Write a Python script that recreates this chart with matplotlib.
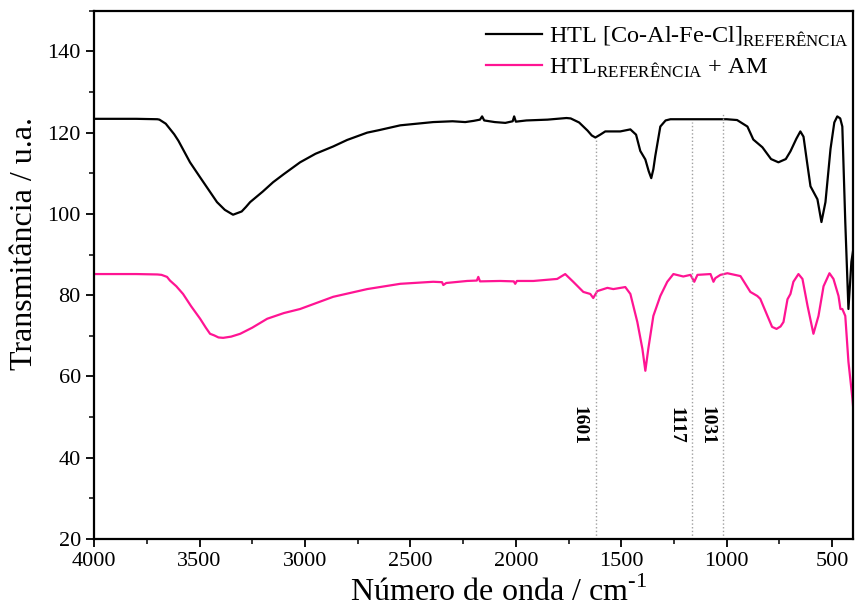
import numpy as np
import matplotlib
matplotlib.use("Agg")
import matplotlib.pyplot as plt
from matplotlib.ticker import MultipleLocator

plt.rcParams["font.family"] = ["Liberation Serif", "DejaVu Serif"]
plt.rcParams["mathtext.fontset"] = "custom"
plt.rcParams["mathtext.rm"] = "Liberation Serif"

# spectra (wavenumber, transmittance)
wn_ref = [4000, 3800, 3700, 3690, 3660, 3620, 3600, 3545, 3497, 3417, 3380, 3341, 3300,
          3280, 3260, 3200, 3151, 3100, 3023, 2950, 2866, 2800, 2705, 2650, 2548, 2392,
          2300, 2240, 2200, 2170, 2160, 2150, 2100, 2050, 2015, 2008, 2000, 1950, 1850,
          1760, 1740, 1700, 1660, 1640, 1623, 1600, 1576, 1505, 1457, 1430, 1410, 1386,
          1370, 1358, 1348, 1339, 1315, 1290, 1267, 1200, 1100, 1000, 951, 902, 874, 831,
          790, 755, 720, 698, 670, 651, 636, 620, 603, 570, 551, 532, 508, 490, 476, 462,
          452, 438, 423, 409, 400]
t_ref = [123.4, 123.4, 123.3, 123.2, 122.2, 119.6, 118.0, 112.7, 109.0, 102.9, 101.0, 99.8, 100.6,
         101.7, 102.9, 105.5, 107.8, 109.8, 112.7, 114.8, 116.6, 118.2, 120.0, 120.6, 121.8, 122.6,
         122.8, 122.6, 122.9, 123.2, 124.0, 123.0, 122.6, 122.4, 122.8, 124.0, 122.7, 123.0, 123.2,
         123.6, 123.5, 122.5, 120.5, 119.3, 118.8, 119.5, 120.3, 120.3, 120.8, 119.5, 115.5, 113.4,
         110.5, 108.8, 111.0, 114.2, 121.5, 123.0, 123.3, 123.3, 123.3, 123.3, 123.1, 121.5, 118.3, 116.4,
         113.5, 112.7, 113.5, 115.4, 118.5, 120.3, 119.0, 113.0, 106.8, 103.6, 98.0, 102.9, 116.0, 122.5,
         124.0, 123.5, 121.5, 98.0, 76.6, 88.2, 91.3]

wn_am = [4000, 3800, 3700, 3680, 3654, 3640, 3610, 3578, 3540, 3497, 3470, 3450, 3430,
         3410, 3388, 3350, 3307, 3250, 3179, 3100, 3023, 2866, 2705, 2548, 2392, 2350,
         2344, 2330, 2231, 2185, 2178, 2170, 2074, 2010, 2003, 1995, 1917, 1804, 1766,
         1728, 1680, 1647, 1633, 1614, 1566, 1538, 1481, 1457, 1424, 1400, 1386, 1372,
         1348, 1315, 1282, 1253, 1206, 1172, 1154, 1139, 1077, 1063, 1054, 1030, 997,
         935, 888, 855, 841, 807, 785, 764, 745, 731, 712, 698, 684, 660, 641, 617, 589,
         565, 541, 513, 494, 470, 461, 452, 438, 423, 404, 400]
t_am = [85.2, 85.2, 85.1, 85.0, 84.5, 83.6, 82.2, 80.3, 77.3, 74.2, 72.0, 70.5, 70.1,
        69.6, 69.5, 69.8, 70.5, 72.0, 74.2, 75.6, 76.6, 79.6, 81.5, 82.8, 83.3, 83.2,
        82.5, 83.0, 83.5, 83.6, 84.5, 83.4, 83.5, 83.4, 82.8, 83.5, 83.5, 84.0, 85.2,
        83.3, 80.8, 80.3, 79.3, 81.0, 81.8, 81.5, 82.0, 80.3, 73.4, 66.8, 61.4, 66.8,
        74.9, 79.8, 83.3, 85.2, 84.6, 85.0, 83.3, 85.0, 85.2, 83.3, 84.2, 85.0, 85.4,
        84.7, 80.8, 79.8, 79.1, 74.9, 72.2, 71.7, 72.3, 73.4, 79.0, 80.3, 83.3, 85.2, 84.0, 77.4, 70.5,
        74.9, 82.2, 85.4, 84.0, 79.8, 76.6, 76.6, 74.9, 63.6, 54.5, 52.0]

# marked bands
band_pos = [1620, 1163, 1016]
band_top = [118.8, 122.5, 124.5]
band_labels = ["1601", "1117", "1031"]

fig = plt.figure(figsize=(8.55, 6.1), dpi=100)
ax = fig.add_axes([0.110, 0.1164, 0.888, 0.866])

ax.plot(wn_ref, t_ref, color="black", lw=1.6,
        label="HTL [Co-Al-Fe-Cl]$_{\\mathrm{REFERÊNCIA}}$")
ax.plot(wn_am, t_am, color="#ff1493", lw=1.6,
        label="HTL$_{\\mathrm{REFERÊNCIA}}$ + AM")

ax.vlines(band_pos, 20, band_top, colors="#a0a0a0", linestyles=":", lw=1.0)
for x, lab in zip(band_pos, band_labels):
    ax.text(x + 80, 48, lab, rotation=270, ha="center", va="center",
            fontsize=14, fontweight="bold")

ax.set_xlim(4000, 400)
ax.set_ylim(20, 150)
ax.xaxis.set_major_locator(MultipleLocator(500))
ax.xaxis.set_minor_locator(MultipleLocator(250))
ax.yaxis.set_minor_locator(MultipleLocator(10))
ax.set_yticks([20, 40, 60, 80, 100, 120, 140])
ax.tick_params(which="major", direction="out", length=6, width=1.3, labelsize=16)
ax.tick_params(which="minor", direction="out", length=3.5, width=1.1)
for s in ax.spines.values():
    s.set_linewidth(1.6)

ax.set_xlabel("Número de onda / cm$^{\\text{-1}}$", fontsize=23)
ax.set_ylabel("Transmitância / u.a.", fontsize=23)
ax.xaxis.set_label_coords(0.533, -0.072)
ax.yaxis.set_label_coords(-0.072, 0.56)

ax.legend(loc="upper right", bbox_to_anchor=(0.995, 0.974), frameon=False,
          fontsize=17.5, handlelength=2.3, handletextpad=0.3,
          borderaxespad=0, borderpad=0, labelspacing=0.33)

fig.savefig("out.png", dpi=100)
